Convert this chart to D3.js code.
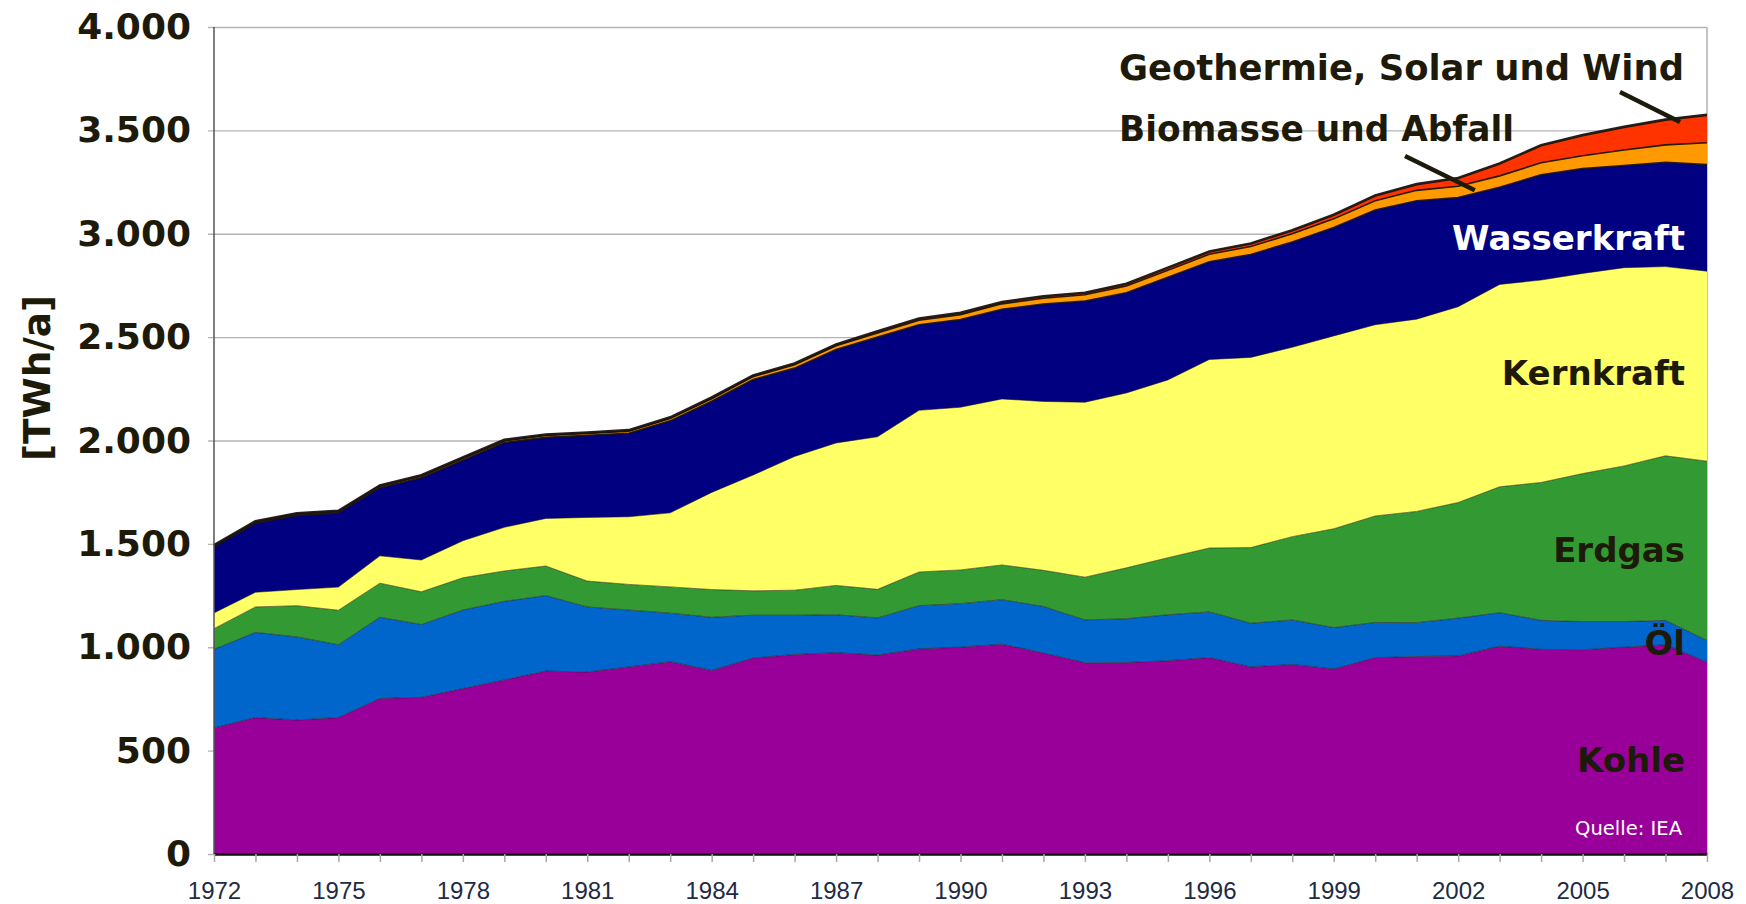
<!DOCTYPE html>
<html>
<head>
<meta charset="utf-8">
<script src="https://cdn.jsdelivr.net/npm/d3@7"></script>
<style>
  body { margin: 0; background: #fff; }
  svg { display: block; }
</style>
</head>
<body>
<svg width="1746" height="904"></svg>
<script>
// jaren en waarden (TWh/a)
var years = [1972,1973,1974,1975,1976,1977,1978,1979,1980,1981,1982,1983,1984,1985,1986,1987,1988,1989,1990,
             1991,1992,1993,1994,1995,1996,1997,1998,1999,2000,2001,2002,2003,2004,2005,2006,2007,2008];

var kohle = [610,660,648,660,752,758,800,842,885,880,905,930,888,948,965,974,962,992,1000,
             1015,972,925,926,935,950,905,917,895,950,955,958,1005,990,988,1000,1012,928];
var oel = [380,412,402,352,393,352,380,380,365,315,275,235,257,207,190,183,180,209,211,
           215,225,207,212,222,221,211,215,200,170,164,183,162,140,136,124,118,105];
var erdgas = [100,123,151,167,165,158,156,147,143,125,124,127,134,118,121,142,138,163,163,
              168,175,207,246,276,309,366,403,478,515,538,559,609,667,716,753,796,867];
var kernkraft = [76,71,78,112,132,154,179,211,230,308,327,358,470,560,647,689,738,782,787,
                 803,817,846,846,860,912,920,916,933,925,930,947,979,979,968,959,915,919];
var wasserkraft = [319,334,359,359,330,398,390,410,392,397,404,445,441,462,427,452,482,414,424,
                   434,471,490,485,497,473,498,509,524,555,573,528,470,509,507,494,504,516];
var biomasse = [5,5,6,6,7,7,8,8,9,9,10,11,12,14,16,18,20,22,24,
                26,28,30,32,34,36,38,40,42,45,50,55,55,58,62,75,85,105];
var geoSolarWind = [4,4,4,4,4,5,5,5,5,5,5,6,6,6,7,7,8,8,9,
                    9,10,10,11,12,13,15,17,20,25,30,40,60,85,100,112,122,135];

var seriesKeys = ["Kohle","Öl","Erdgas","Kernkraft","Wasserkraft","Biomasse","Geo"];
var seriesColors = ["#990099","#0066cc","#339933","#ffff66","#000080","#ff9900","#ff3300"];

var yTicks = [0,500,1000,1500,2000,2500,3000,3500,4000];
var xLabelYears = [1972,1975,1978,1981,1984,1987,1990,1993,1996,1999,2002,2005,2008];

// speelveld
var svg = d3.select("svg"),
    plot = {left: 214, right: 1707, top: 27, bottom: 854},
    width = plot.right - plot.left;

var x = d3.scaleLinear().domain([1972, 2008]).range([plot.left, plot.right]),
    y = d3.scaleLinear().domain([0, 4000]).range([plot.bottom, plot.top]);

var de = d3.formatLocale({decimal: ",", thousands: ".", grouping: [3], currency: ["", "€"]});
var fmt = de.format(",");

// tabel voor d3.stack
var table = years.map(function(yr, i) {
  return {year: yr, "Kohle": kohle[i], "Öl": oel[i], "Erdgas": erdgas[i], "Kernkraft": kernkraft[i],
          "Wasserkraft": wasserkraft[i], "Biomasse": biomasse[i], "Geo": geoSolarWind[i]};
});
var stacked = d3.stack().keys(seriesKeys)(table);

// rasterlijnen + y-as
svg.append("g")
    .attr("transform", "translate(" + plot.left + ",0)")
    .call(d3.axisLeft(y).tickValues(yTicks).tickFormat(fmt).tickSizeInner(-width).tickSizeOuter(0).tickPadding(23))
    .call(function(g) {
      g.select(".domain").remove();
      g.selectAll(".tick line").attr("stroke", "#b4b4b4").attr("x1", -6).attr("stroke-width", 1.3);
      g.selectAll(".tick text")
        .attr("fill", "#1e1a0a")
        .style("font-family", "'DejaVu Sans', Verdana, sans-serif")
        .style("font-weight", "bold")
        .style("font-size", "36px");
    });

// rechterrand
svg.append("line")
    .attr("x1", plot.right).attr("x2", plot.right).attr("y1", plot.top).attr("y2", plot.bottom)
    .attr("stroke", "#c4c4c4").attr("stroke-width", 2);

// vlakken
var area = d3.area()
    .x(function(d) { return x(d.data.year); })
    .y0(function(d) { return y(d[0]); })
    .y1(function(d) { return y(d[1]); });

svg.append("g").selectAll("path")
  .data(stacked)
  .enter().append("path")
    .attr("fill", function(d, i) { return seriesColors[i]; })
    .attr("d", area);

// grenslijnen tussen de lagen
var edge = d3.line()
    .x(function(d) { return x(d.data.year); })
    .y(function(d) { return y(d[1]); });

svg.append("g").selectAll("path")
  .data(stacked)
  .enter().append("path")
    .attr("fill", "none")
    .attr("stroke", "#1a1410")
    .attr("stroke-opacity", function(d, i) { return i >= 4 ? 0.95 : 0.55; })
    .attr("stroke-width", function(d, i) { return i == seriesKeys.length - 1 ? 2.6 : (i >= 4 ? 1.6 : 1); })
    .attr("d", edge);

// linker as
svg.append("line")
    .attr("x1", plot.left).attr("x2", plot.left).attr("y1", plot.top).attr("y2", plot.bottom)
    .attr("stroke", "#555").attr("stroke-width", 1.5);

// x-as met jaartallen
svg.append("g")
    .attr("transform", "translate(0," + plot.bottom + ")")
    .call(d3.axisBottom(x).tickValues(years).tickSizeInner(8).tickSizeOuter(0).tickPadding(20)
      .tickFormat(function(d) { return xLabelYears.indexOf(d) >= 0 ? d : ""; }))
    .call(function(g) {
      g.select(".domain").attr("stroke", "#111").attr("stroke-width", 2.5);
      g.selectAll(".tick line").attr("stroke", "#a8a8a8").attr("stroke-width", 1.5);
      g.selectAll(".tick text")
        .attr("fill", "#1f2a44")
        .style("font-family", "'Liberation Sans', Arial, sans-serif")
        .style("font-size", "24px");
    });

// eenheid
svg.append("text")
    .attr("transform", "translate(37,378) rotate(-90)")
    .attr("text-anchor", "middle")
    .attr("dominant-baseline", "central")
    .attr("fill", "#1e1a0a")
    .attr("textLength", 166)
    .attr("lengthAdjust", "spacingAndGlyphs")
    .style("font-family", "'DejaVu Sans Condensed', 'DejaVu Sans', sans-serif")
    .style("font-weight", "bold")
    .style("font-size", "38px")
    .text("[TWh/a]");

// labels in de vlakken
var inLabels = [
  {t: "Wasserkraft", y: 250, c: "#ffffff"},
  {t: "Kernkraft", y: 385, c: "#1e1a0a"},
  {t: "Erdgas", y: 562, c: "#1e1a0a"},
  {t: "Öl", y: 655, c: "#1e1a0a"},
  {t: "Kohle", y: 772, c: "#1e1a0a"}
];
svg.append("g").selectAll("text")
  .data(inLabels)
  .enter().append("text")
    .attr("x", 1685)
    .attr("y", function(d) { return d.y; })
    .attr("text-anchor", "end")
    .attr("fill", function(d) { return d.c; })
    .style("font-family", "'DejaVu Sans', Verdana, sans-serif")
    .style("font-weight", "bold")
    .style("font-size", "34px")
    .text(function(d) { return d.t; });

svg.append("text")
    .attr("x", 1682).attr("y", 835)
    .attr("text-anchor", "end")
    .attr("fill", "#ffffff")
    .attr("textLength", 107)
    .attr("lengthAdjust", "spacingAndGlyphs")
    .style("font-family", "'DejaVu Sans Condensed', 'DejaVu Sans', sans-serif")
    .style("font-size", "20px")
    .text("Quelle: IEA");

// kleine reeksen bovenaan met wijzers
svg.append("text")
    .attr("x", 1119).attr("y", 80)
    .attr("fill", "#1e1a0a")
    .attr("textLength", 565)
    .attr("lengthAdjust", "spacingAndGlyphs")
    .style("font-family", "'DejaVu Sans Condensed', 'DejaVu Sans', sans-serif")
    .style("font-weight", "bold")
    .style("font-size", "36px")
    .text("Geothermie, Solar und Wind");

svg.append("text")
    .attr("x", 1119).attr("y", 141)
    .attr("fill", "#1e1a0a")
    .attr("textLength", 395)
    .attr("lengthAdjust", "spacingAndGlyphs")
    .style("font-family", "'DejaVu Sans Condensed', 'DejaVu Sans', sans-serif")
    .style("font-weight", "bold")
    .style("font-size", "36px")
    .text("Biomasse und Abfall");

svg.append("line")
    .attr("x1", 1620).attr("y1", 92)
    .attr("x2", x(2007.35)).attr("y2", y(3540))
    .attr("stroke", "#1e1a0a").attr("stroke-width", 4.5);

svg.append("line")
    .attr("x1", 1405).attr("y1", 156)
    .attr("x2", x(2002.4)).attr("y2", y(3210))
    .attr("stroke", "#1e1a0a").attr("stroke-width", 4.5);
</script>
</body>
</html>
